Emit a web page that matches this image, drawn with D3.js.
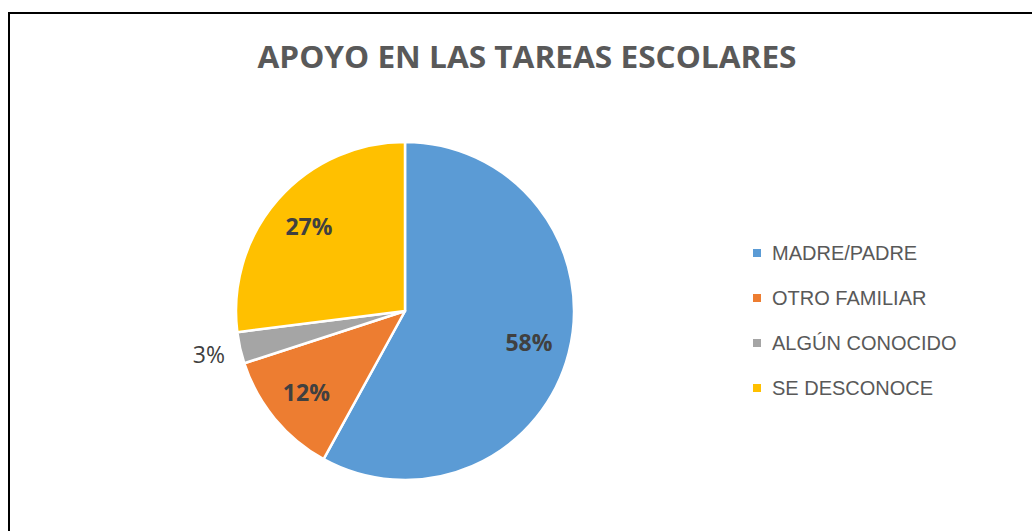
<!DOCTYPE html>
<html>
<head>
<meta charset="utf-8">
<script src="https://d3js.org/d3.v7.min.js"></script>
<style>
  body { margin: 0; background: #fff; }
  svg { display: block; font-family: 'Open Sans', 'Liberation Sans', sans-serif; }
</style>
</head>
<body>
<div id="chart"></div>
<script>
  const categories = ['MADRE/PADRE', 'OTRO FAMILIAR', 'ALGÚN CONOCIDO', 'SE DESCONOCE'];
  const values = [58, 12, 3, 27];
  const colors = ['#5B9BD5', '#ED7D31', '#A5A5A5', '#FFC000'];
  const outsideLabel = [false, false, true, false];

  const width = 1032, height = 531;
  const cx = 405, cy = 311, r = 169;

  const svg = d3.select('#chart').append('svg')
    .attr('width', width).attr('height', height);

  // chart frame
  svg.append('rect')
    .attr('x', 9).attr('y', 13)
    .attr('width', width + 20).attr('height', height + 20)
    .attr('fill', '#fff').attr('stroke', '#000').attr('stroke-width', 2);

  svg.append('text')
    .attr('x', 527).attr('y', 68)
    .attr('text-anchor', 'middle')
    .attr('font-size', 30).attr('font-weight', 700)
    .attr('fill', '#595959')
    .attr('textLength', 539).attr('lengthAdjust', 'spacingAndGlyphs')
    .text('APOYO EN LAS TAREAS ESCOLARES');

  const pie = d3.pie().sort(null).value(d => d.value);
  const arcs = pie(categories.map((c, i) => ({ name: c, value: values[i], i })));

  const arc = d3.arc().innerRadius(0).outerRadius(r);
  const inLabel = d3.arc().innerRadius(128).outerRadius(128);
  const outLabel = d3.arc().innerRadius(201).outerRadius(201);

  const g = svg.append('g').attr('transform', `translate(${cx},${cy})`);

  g.selectAll('path')
    .data(arcs)
    .join('path')
    .attr('d', arc)
    .attr('fill', d => colors[d.data.i])
    .attr('stroke', '#fff')
    .attr('stroke-width', 2.5)
    .attr('stroke-linejoin', 'round');

  g.selectAll('text.lbl')
    .data(arcs)
    .join('text')
    .attr('class', 'lbl')
    .attr('transform', d => `translate(${(outsideLabel[d.data.i] ? outLabel : inLabel).centroid(d)})`)
    .attr('text-anchor', 'middle')
    .attr('dy', '0.36em')
    .attr('font-size', 23)
    .attr('font-weight', d => outsideLabel[d.data.i] ? 400 : 700)
    .attr('fill', '#404040')
    .text(d => d.data.value + '%');

  const legend = svg.append('g').attr('transform', 'translate(753,253)');
  const row = legend.selectAll('g')
    .data(categories)
    .join('g')
    .attr('transform', (d, i) => `translate(0,${i * 45})`);

  row.append('rect')
    .attr('x', 0).attr('y', -4)
    .attr('width', 8).attr('height', 8)
    .attr('fill', (d, i) => colors[i]);

  row.append('text')
    .attr('x', 19).attr('dy', '0.36em')
    .attr('font-size', 20)
    .attr('fill', '#595959')
    .attr('font-family', 'Liberation Sans, Arial, sans-serif')
    .text(d => d);
</script>
</body>
</html>
